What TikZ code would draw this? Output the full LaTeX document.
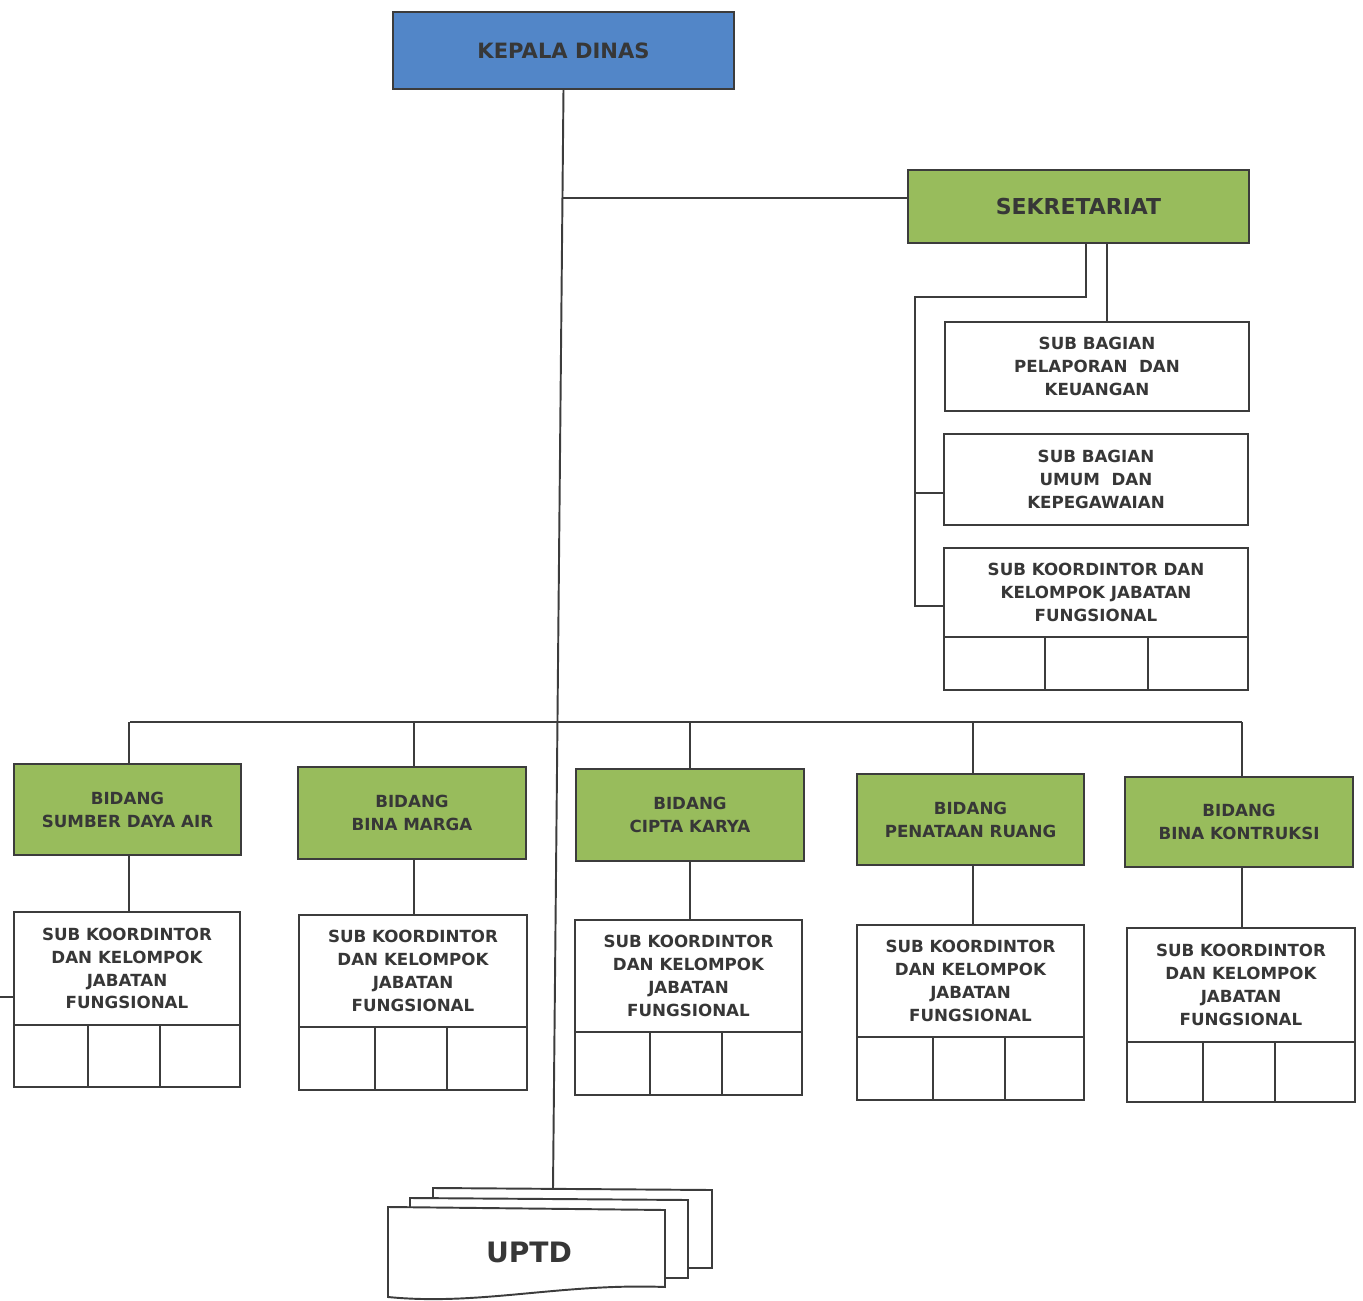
\documentclass[tikz,border=0pt]{standalone}
\usepackage{fontspec}
\setmainfont{DejaVu Sans}
\definecolor{lineC}{RGB}{60,60,60}
\definecolor{txtC}{RGB}{55,55,55}
\definecolor{blueC}{RGB}{82,134,200}
\definecolor{greenC}{RGB}{152,188,92}
\begin{document}
\begin{tikzpicture}[x=0.02cm,y=-0.02cm,
  every node/.style={inner sep=0pt, outer sep=0pt, align=center, text=txtC},
  base/.style={draw=lineC, line width=1.1pt, font=\bfseries\fontsize{9.5}{13}\selectfont},
  bbox/.style={base, fill=blueC, font=\bfseries\fontsize{12}{14}\selectfont},
  gbox/.style={base, fill=greenC},
  wbox/.style={base, fill=white},
  conn/.style={draw=lineC, line width=1.1pt}]
\useasboundingbox (0,0) rectangle (1363,1301);

% top
\node[bbox, minimum width=341*0.02cm, minimum height=77*0.02cm] (kepala) at (563.5,50.5) {KEPALA DINAS};
\node[gbox, font=\bfseries\fontsize{12.5}{14}\selectfont, minimum width=341*0.02cm, minimum height=73*0.02cm] (sek) at (1078.5,206.5) {SEKRETARIAT};

% sekretariat children
\node[wbox, minimum width=304*0.02cm, minimum height=89*0.02cm] (sb1) at (1097,366.5) {SUB BAGIAN\\PELAPORAN\ \ DAN\\KEUANGAN};
\node[wbox, minimum width=304*0.02cm, minimum height=91*0.02cm] (sb2) at (1096,479.5) {SUB BAGIAN\\UMUM\ \ DAN\\KEPEGAWAIAN};
\node[wbox, minimum width=304*0.02cm, minimum height=89*0.02cm] (sb3) at (1096,592.5) {SUB KOORDINTOR DAN\\KELOMPOK JABATAN\\FUNGSIONAL};
\node[wbox, anchor=north west, minimum width=101*0.02cm, minimum height=53*0.02cm] (sb3a) at (944,637) {};
\node[wbox, anchor=north west, minimum width=103*0.02cm, minimum height=53*0.02cm] (sb3b) at (1045,637) {};
\node[wbox, anchor=north west, minimum width=100*0.02cm, minimum height=53*0.02cm] (sb3c) at (1148,637) {};

\coordinate (k1) at (1107,0);
\coordinate (k2) at (1086,0);
\coordinate (j1) at (1086,297);
\coordinate (j2) at (915,297);
\coordinate (j3) at (915,606);
\coordinate (j4) at (915,493);
\draw[conn] (sek.south -| k1) -- (sb1.north -| k1);
\draw[conn] (sek.south -| k2) -- (j1) -- (j2) -- (j3) -- (sb3.west |- j3);
\draw[conn] (j4) -- (sb2.west |- j4);

% UPTD stack
\draw[conn, fill=white] (433,1188) -- (712,1190) -- (712,1268) -- (433,1268) -- cycle;
\draw[conn, fill=white] (410,1198) -- (688,1200) -- (688,1278) -- (410,1278) -- cycle;
\draw[conn, fill=white] (388,1207) -- (665,1210) -- (665,1287) .. controls (560,1283) and (480,1306) .. (388,1297) -- cycle;
\node[font=\bfseries\fontsize{16}{18}\selectfont] (uptd) at (529,1252) {UPTD};
\coordinate (utop) at (553,1189);

% main trunk
\draw[conn] (kepala.south) -- (utop);
\coordinate (jsek) at (562,198);
\draw[conn] (jsek) -- (sek.west |- jsek);

% bus
\coordinate (busL) at (130,722);
\coordinate (busR) at (1242,722);
\draw[conn] (busL) -- (busR);

% bidang
\foreach \n/\bl/\bt/\br/\bb/\sl/\st/\sr/\sd/\sb/\va/\vb/\dx/\txt in {
 1/14/764/241/855/14/912/240/1025/1087/88/160/129/{SUMBER DAYA AIR},
 2/298/767/526/859/299/915/527/1027/1090/375/447/414/{BINA MARGA},
 3/576/769/804/861/575/920/802/1032/1095/650/722/690/{CIPTA KARYA},
 4/857/774/1084/865/857/925/1084/1037/1100/933/1005/973/{PENATAAN RUANG},
 5/1125/777/1353/867/1127/928/1355/1042/1102/1203/1275/1242/{BINA KONTRUKSI}}
{
 \node[gbox, minimum width={(\br-\bl)*0.02cm}, minimum height={(\bb-\bt)*0.02cm}] (bid\n) at ({(\bl+\br)/2},{(\bt+\bb)/2}) {BIDANG\\\txt};
 \node[wbox, minimum width={(\sr-\sl)*0.02cm}, minimum height={(\sd-\st)*0.02cm}] (sub\n) at ({(\sl+\sr)/2},{(\st+\sd)/2}) {SUB KOORDINTOR\\DAN KELOMPOK\\JABATAN\\FUNGSIONAL};
 \node[wbox, anchor=north west, minimum width={(\va-\sl)*0.02cm}, minimum height={(\sb-\sd)*0.02cm}] (sub\n-a) at (\sl,\sd) {};
 \node[wbox, anchor=north west, minimum width={(\vb-\va)*0.02cm}, minimum height={(\sb-\sd)*0.02cm}] (sub\n-b) at (\va,\sd) {};
 \node[wbox, anchor=north west, minimum width={(\sr-\vb)*0.02cm}, minimum height={(\sb-\sd)*0.02cm}] (sub\n-c) at (\vb,\sd) {};
 \coordinate (drop\n) at (\dx,722);
 \draw[conn] (drop\n) -- (bid\n.north -| drop\n);
 \draw[conn] (bid\n.south -| drop\n) -- (sub\n.north -| drop\n);
}

% small stub at left
\coordinate (stub) at (0,997);
\draw[conn] (stub) -- (sub1.west |- stub);
\end{tikzpicture}
\end{document}
